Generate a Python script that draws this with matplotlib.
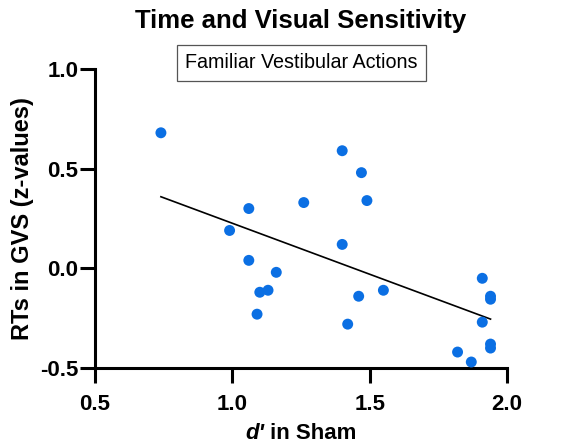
import numpy as np
import matplotlib
matplotlib.use('Agg')
import matplotlib.pyplot as plt
from matplotlib.offsetbox import TextArea, HPacker, AnchoredOffsetbox

# d' in Sham vs RTs in GVS (z-values)
d_sham = [0.74, 1.06, 0.99, 1.06, 1.16, 1.10, 1.13, 1.09, 1.26, 1.40, 1.40, 1.42,
          1.47, 1.49, 1.46, 1.55, 1.91, 1.94, 1.94, 1.91, 1.94, 1.94, 1.82, 1.87]
rt_gvs = [0.68, 0.30, 0.19, 0.04, -0.02, -0.12, -0.11, -0.23, 0.33, 0.59, 0.12, -0.28,
          0.48, 0.34, -0.14, -0.11, -0.05, -0.14, -0.155, -0.27, -0.38, -0.40, -0.42, -0.47]

x_ticks = [0.5, 1.0, 1.5, 2.0]
y_ticks = [-0.5, 0.0, 0.5, 1.0]

plt.rcParams['font.family'] = ['Liberation Sans', 'DejaVu Sans']

fig = plt.figure(figsize=(5.67, 4.44), dpi=100)
ax = fig.add_axes([95 / 567, 1 - 368 / 444, 412 / 567, 299 / 444])

ax.scatter(d_sham, rt_gvs, s=62, color='#0b6fe3', edgecolors='none', zorder=3, clip_on=False)

# least squares line over the data range
slope, icpt = np.polyfit(d_sham, rt_gvs, 1)
xs = np.array([min(d_sham), max(d_sham)])
ax.plot(xs, slope * xs + icpt, color='black', linewidth=1.2, zorder=2)

ax.set_xlim(0.5, 2.0)
ax.set_ylim(-0.5, 1.0)
ax.set_xticks(x_ticks)
ax.set_yticks(y_ticks)
ax.set_xticklabels([f'{v:.1f}' for v in x_ticks], fontsize=16, fontweight='bold')
ax.set_yticklabels([f'{v:.1f}' for v in y_ticks], fontsize=16, fontweight='bold')
ax.tick_params(direction='out', length=11, width=2.2)
ax.tick_params(axis='x', pad=8)
ax.tick_params(axis='y', pad=1)

for side in ['top', 'right']:
    ax.spines[side].set_visible(False)
for side in ['left', 'bottom']:
    ax.spines[side].set_linewidth(2.2)

ax.set_ylabel('RTs in GVS (z-values)', fontsize=17, fontweight='bold', labelpad=4)

# x label: italic d' followed by plain bold text
xl = HPacker(children=[
    TextArea("d'", textprops=dict(fontsize=16, fontweight='bold', fontstyle='italic')),
    TextArea(" in Sham", textprops=dict(fontsize=16, fontweight='bold')),
], align='baseline', pad=0, sep=0)
ax.add_artist(AnchoredOffsetbox(loc='center', child=xl, frameon=False, pad=0,
                                bbox_to_anchor=(0.5, -0.22), bbox_transform=ax.transAxes,
                                borderpad=0))

fig.text(0.531, 1 - 21 / 444, 'Time and Visual Sensitivity', ha='center', va='center',
         fontsize=18.5, fontweight='bold')
fig.text(0.531, 1 - 63 / 444, 'Familiar Vestibular Actions', ha='center', va='center',
         fontsize=14.2,
         bbox=dict(boxstyle='square,pad=0.42', facecolor='white', edgecolor='#555555', linewidth=0.9))

plt.savefig('out.png', dpi=100)
